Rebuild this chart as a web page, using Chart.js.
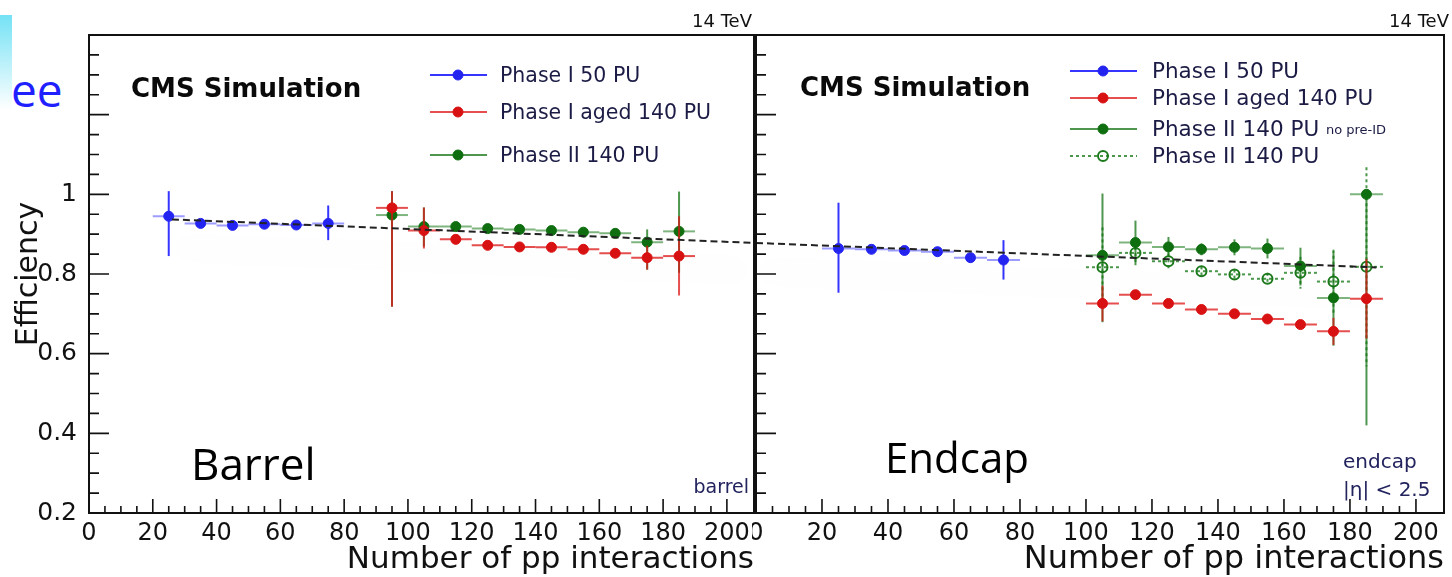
<!DOCTYPE html>
<html lang="en">
<head>
<meta charset="UTF-8">
<title>Efficiency vs number of pp interactions - barrel / endcap</title>
<script src="https://cdn.jsdelivr.net/npm/chart.js"></script>
<style>
  body { margin: 0; background: #fff; width: 1452px; height: 577px; overflow: hidden; position: relative; }
  .strip { position: absolute; left: 0; top: 15px; width: 12px; height: 95px; background: linear-gradient(#74e2f5, #ffffff); }
  .slide-txt { position: absolute; left: 11px; top: 58px; font: 46px "Open Sans"; color: #1f1fff; }
  #barrel { position: absolute; left: 0; top: 0; }
  .clip { position: absolute; left: 752px; top: 0; width: 700px; height: 577px; overflow: hidden; }
  #endcap { position: absolute; left: -6px; top: 0; }
</style>
</head>
<body>
<div class="strip"></div>
<div class="slide-txt">ee</div>
<canvas id="barrel" width="760" height="577"></canvas>
<div class="clip"><canvas id="endcap" width="706" height="577"></canvas></div>

<script>
// axis labels
const xTickLabels = ['0', '20', '40', '60', '80', '100', '120', '140', '160', '180', '200'];
const yTickLabels = ['0.2', '0.4', '0.6', '0.8', '1'];
const legendBarrel = ['Phase I 50 PU', 'Phase I aged 140 PU', 'Phase II 140 PU'];
const legendEndcap = ['Phase I 50 PU', 'Phase I aged 140 PU', 'Phase II 140 PU', 'Phase II 140 PU'];
const legendEndcapNotes = ['', '', 'no pre-ID', ''];

// bin centres (number of pp interactions)
const puPhase1 = [25, 35, 45, 55, 65, 75];
const puBarrel140 = [95, 105, 115, 125, 135, 145, 155, 165, 175, 185];
const puEndcap140 = [105, 115, 125, 135, 145, 155, 165, 175, 185];
const binHalfWidth = 5;

// barrel
const barrelP1 = [0.945, 0.927, 0.922, 0.925, 0.923, 0.927];
const barrelP1Up = [0.063, 0.005, 0.005, 0.005, 0.005, 0.045];
const barrelP1Down = [0.100, 0.005, 0.005, 0.005, 0.005, 0.042];
const barrelAged = [0.966, 0.909, 0.887, 0.872, 0.868, 0.867, 0.862, 0.852, 0.841, 0.845];
const barrelAgedUp = [0.042, 0.058, 0.006, 0.006, 0.006, 0.006, 0.006, 0.006, 0.030, 0.100];
const barrelAgedDown = [0.248, 0.045, 0.006, 0.006, 0.006, 0.006, 0.006, 0.006, 0.030, 0.099];
const barrelP2 = [0.948, 0.919, 0.919, 0.914, 0.912, 0.909, 0.905, 0.902, 0.880, 0.907];
const barrelP2Up = [0.060, 0.048, 0.006, 0.006, 0.006, 0.006, 0.006, 0.006, 0.032, 0.100];
const barrelP2Down = [0.230, 0.050, 0.006, 0.006, 0.006, 0.006, 0.006, 0.006, 0.069, 0.104];
const barrelFitX = [26, 208.5];
const barrelFitY = [0.937, 0.878];

// endcap
const endcapP1 = [0.864, 0.862, 0.859, 0.856, 0.841, 0.835];
const endcapP1Up = [0.115, 0.006, 0.006, 0.006, 0.006, 0.050];
const endcapP1Down = [0.111, 0.006, 0.006, 0.006, 0.006, 0.049];
const endcapAged = [0.726, 0.748, 0.726, 0.711, 0.700, 0.687, 0.673, 0.656, 0.738];
const endcapAgedErr = [0.045, 0.006, 0.006, 0.006, 0.006, 0.006, 0.006, 0.034, 0.100];
const endcapP2NoPreId = [0.847, 0.879, 0.868, 0.862, 0.867, 0.864, 0.820, 0.740, 1.000];
const endcapP2NoPreIdUp = [0.155, 0.055, 0.025, 0.015, 0.020, 0.025, 0.046, 0.117, 0.000];
const endcapP2NoPreIdDown = [0.168, 0.057, 0.025, 0.015, 0.020, 0.025, 0.049, 0.120, 0.580];
const endcapP2 = [0.817, 0.853, 0.832, 0.807, 0.799, 0.788, 0.803, 0.781, 0.818];
const endcapP2Err = [0.100, 0.030, 0.020, 0.012, 0.012, 0.015, 0.040, 0.080, 0.250];
const endcapFitX = [0, 188];
const endcapFitY = [0.878, 0.8165];

const ROOTFONT = 'DejaVu Sans';
const BLUE = { pointBackgroundColor: '#2424f0', pointBorderColor: '#2424f0', barColor: '#3535ff', xBarColor: 'rgba(90,90,255,0.6)' };
const RED = { pointBackgroundColor: '#d81212', pointBorderColor: '#d81212', barColor: 'rgba(220,20,20,0.75)', xBarColor: 'rgba(220,20,20,0.75)' };
const GREEN = { pointBackgroundColor: '#0f6e0f', pointBorderColor: '#0f6e0f', barColor: 'rgba(20,115,20,0.75)', xBarColor: 'rgba(40,130,40,0.6)' };
const GREEN_OPEN = { pointBackgroundColor: 'rgba(255,255,255,0)', pointBorderColor: '#1c7a1c', pointBorderWidth: 2, barColor: 'rgba(30,125,30,0.8)', xBarColor: 'rgba(30,125,30,0.8)', barDash: [3, 3] };

function series(label, xs, ys, up, down, style) {
  return Object.assign({
    label: label,
    type: 'scatter',
    data: xs.map((x, i) => ({ x: x, y: ys[i] })),
    errUp: up, errDown: down, xErr: binHalfWidth,
    pointRadius: 5, pointBorderWidth: 1, showLine: false
  }, style);
}

function fitLine(xs, ys) {
  return {
    type: 'line', label: 'fit',
    data: xs.map((x, i) => ({ x: x, y: ys[i] })),
    borderColor: '#222', borderWidth: 2, borderDash: [7, 4],
    pointRadius: 0, fill: false, tension: 0, shadow: true
  };
}

// error bars drawn under each dataset's markers
const errorBars = {
  id: 'errorBars',
  beforeDatasetDraw(chart, args) {
    const ds = chart.data.datasets[args.index];
    const ctx = chart.ctx, a = chart.chartArea;
    if (ds.shadow) {
      ctx.save();
      ctx.beginPath(); ctx.rect(a.left, a.top, a.right - a.left, a.bottom - a.top); ctx.clip();
      ctx.shadowColor = 'rgba(0,0,0,0.16)';
      ctx.shadowBlur = 30;
      ctx.shadowOffsetY = 28;
      return;
    }
    if (!ds.errUp) return;
    const x = chart.scales.x, y = chart.scales.y;
    ctx.save();
    ctx.beginPath(); ctx.rect(a.left, a.top, a.right - a.left, a.bottom - a.top); ctx.clip();
    ctx.lineWidth = 2;
    ctx.setLineDash(ds.barDash || []);
    ds.data.forEach((p, i) => {
      const px = x.getPixelForValue(p.x), py = y.getPixelForValue(p.y);
      ctx.strokeStyle = ds.xBarColor;
      ctx.beginPath();
      ctx.moveTo(x.getPixelForValue(p.x - ds.xErr), py);
      ctx.lineTo(x.getPixelForValue(p.x + ds.xErr), py);
      ctx.stroke();
      ctx.strokeStyle = ds.barColor;
      ctx.beginPath();
      ctx.moveTo(px, y.getPixelForValue(p.y + ds.errUp[i]));
      ctx.lineTo(px, y.getPixelForValue(p.y - ds.errDown[i]));
      ctx.stroke();
    });
    ctx.restore();
  },
  afterDatasetDraw(chart, args) {
    if (chart.data.datasets[args.index].shadow) chart.ctx.restore();
  }
};

// ROOT style frame with inward ticks
const rootFrame = {
  id: 'rootFrame',
  afterDatasetsDraw(chart) {
    const ctx = chart.ctx, a = chart.chartArea, x = chart.scales.x, y = chart.scales.y;
    ctx.save();
    ctx.strokeStyle = '#111';
    ctx.lineWidth = 2;
    ctx.strokeRect(a.left, a.top, a.right - a.left, a.bottom - a.top);
    ctx.lineWidth = 1.6;
    ctx.beginPath();
    x.ticks.forEach(t => {
      const k = t.value / 5;
      if (Math.abs(k - Math.round(k)) > 1e-6 || t.value <= 0) return;
      const len = Math.round(k) % 4 === 0 ? 14 : 7;
      const px = x.getPixelForValue(t.value);
      ctx.moveTo(px, a.bottom); ctx.lineTo(px, a.bottom - len);
    });
    y.ticks.forEach(t => {
      const k = t.value / 0.05;
      if (Math.abs(k - Math.round(k)) > 1e-6 || t.value <= 0.2) return;
      const len = Math.round(k) % 4 === 0 ? 20 : 10;
      const py = y.getPixelForValue(t.value);
      ctx.moveTo(a.left, py); ctx.lineTo(a.left + len, py);
    });
    ctx.stroke();
    ctx.restore();
  }
};

function decor(cfg) {
  return {
    id: 'decor',
    afterDraw(chart) {
      const ctx = chart.ctx;
      ctx.save();
      cfg.texts.forEach(t => {
        ctx.font = t.font;
        ctx.fillStyle = t.color || '#111';
        ctx.textAlign = t.align || 'left';
        ctx.textBaseline = 'alphabetic';
        ctx.fillText(t.text, t.x, t.y);
      });
      const L = cfg.legend;
      L.labels.forEach((label, i) => {
        const ds = chart.data.datasets[L.datasets[i]];
        const yy = L.ys[i];
        ctx.strokeStyle = ds.barColor;
        ctx.lineWidth = 2;
        ctx.setLineDash(ds.barDash || []);
        ctx.beginPath(); ctx.moveTo(L.x0, yy); ctx.lineTo(L.x1, yy); ctx.stroke();
        ctx.setLineDash([]);
        ctx.beginPath(); ctx.arc(L.xm, yy, 5, 0, 2 * Math.PI);
        ctx.fillStyle = ds.pointBackgroundColor; ctx.fill();
        ctx.lineWidth = ds.pointBorderWidth; ctx.strokeStyle = ds.pointBorderColor; ctx.stroke();
        ctx.font = L.font;
        ctx.fillStyle = '#1b1b45';
        ctx.textAlign = 'left';
        ctx.textBaseline = 'alphabetic';
        ctx.fillText(label, L.tx, yy + 7);
        if (L.notes && L.notes[i]) {
          const w = ctx.measureText(label + ' ').width;
          ctx.font = '13px "' + ROOTFONT + '"';
          ctx.fillText(L.notes[i], L.tx + w, yy + 5);
        }
      });
      ctx.restore();
    }
  };
}

function axes(leftWidth, showY) {
  return {
    x: {
      type: 'linear', min: 0, max: 208.5,
      grid: { display: false }, border: { display: false },
      afterFit: s => { s.height = 64; },
      ticks: {
        stepSize: 5, autoSkip: false, maxRotation: 0, padding: -2, color: '#111',
        font: { family: ROOTFONT, size: 24 },
        callback: v => xTickLabels.includes(String(v)) ? String(v) : ''
      },
      title: {
        display: true, text: 'Number of pp interactions', align: 'end', color: '#111',
        font: { family: ROOTFONT, size: showY ? 31 : 32, lineHeight: 1.1 }, padding: { top: 0, bottom: 0 }
      }
    },
    y: {
      type: 'linear', min: 0.2, max: 1.4,
      grid: { display: false }, border: { display: false },
      afterFit: s => { s.width = leftWidth; },
      ticks: {
        stepSize: 0.05, autoSkip: false, padding: 4, color: '#111',
        font: { family: ROOTFONT, size: 25 },
        callback: v => showY ? (yTickLabels.find(l => Math.abs(parseFloat(l) - v) < 1e-6) || '') : ''
      },
      title: {
        display: showY, text: 'Efficiency', color: '#111',
        font: { family: ROOTFONT, size: 30 }, padding: { top: 11, bottom: 0 }
      }
    }
  };
}

const common = {
  responsive: false, animation: false, events: [],
  plugins: { legend: { display: false }, tooltip: { enabled: false } }
};

new Chart(document.getElementById('barrel'), {
  type: 'scatter',
  data: {
    datasets: [
      fitLine(barrelFitX, barrelFitY),
      series(legendBarrel[0], puPhase1, barrelP1, barrelP1Up, barrelP1Down, BLUE),
      series(legendBarrel[1], puBarrel140, barrelAged, barrelAgedUp, barrelAgedDown, RED),
      series(legendBarrel[2], puBarrel140, barrelP2, barrelP2Up, barrelP2Down, GREEN)
    ]
  },
  options: Object.assign({}, common, {
    layout: { padding: { top: 35, right: 4, left: 0, bottom: 0 } },
    scales: axes(89, true)
  }),
  plugins: [errorBars, rootFrame, decor({
    texts: [
      { text: '14 TeV', x: 752, y: 27, font: '18px "' + ROOTFONT + '"', align: 'right' },
      { text: 'CMS Simulation', x: 131, y: 97, font: 'bold 26px "' + ROOTFONT + '"', color: '#0a0a0a' },
      { text: 'Barrel', x: 191, y: 480, font: '44px "Open Sans"', color: '#000' },
      { text: 'barrel', x: 749, y: 493, font: '19px "' + ROOTFONT + '"', color: '#23235e', align: 'right' }
    ],
    legend: {
      labels: legendBarrel, datasets: [1, 2, 3], ys: [75, 112, 155],
      x0: 430, x1: 487, xm: 458, tx: 500, font: '20.5px "' + ROOTFONT + '"'
    }
  })]
});

// right canvas starts at page x = 746
new Chart(document.getElementById('endcap'), {
  type: 'scatter',
  data: {
    datasets: [
      fitLine(endcapFitX, endcapFitY),
      series(legendEndcap[0], puPhase1, endcapP1, endcapP1Up, endcapP1Down, BLUE),
      series(legendEndcap[1], puEndcap140, endcapAged, endcapAgedErr, endcapAgedErr, RED),
      series(legendEndcap[2], puEndcap140, endcapP2NoPreId, endcapP2NoPreIdUp, endcapP2NoPreIdDown, GREEN),
      series(legendEndcap[3], puEndcap140, endcapP2, endcapP2Err, endcapP2Err, GREEN_OPEN)
    ]
  },
  options: Object.assign({}, common, {
    layout: { padding: { top: 35, right: 8, left: 0, bottom: 0 } },
    scales: axes(10, false)
  }),
  plugins: [errorBars, rootFrame, decor({
    texts: [
      { text: '14 TeV', x: 703, y: 27, font: '18px "' + ROOTFONT + '"', align: 'right' },
      { text: 'CMS Simulation', x: 54, y: 96, font: 'bold 26px "' + ROOTFONT + '"', color: '#0a0a0a' },
      { text: 'Endcap', x: 139, y: 473, font: '42px "Open Sans"', color: '#000' },
      { text: 'endcap', x: 597, y: 468, font: '20px "' + ROOTFONT + '"', color: '#23235e' },
      { text: '|\u03B7| < 2.5', x: 597, y: 496, font: '20px "' + ROOTFONT + '"', color: '#23235e' }
    ],
    legend: {
      labels: legendEndcap, notes: legendEndcapNotes, datasets: [1, 2, 3, 4], ys: [71, 98, 129, 156],
      x0: 324, x1: 391, xm: 357, tx: 406, font: '21.5px "' + ROOTFONT + '"'
    }
  })]
});
</script>
</body>
</html>
